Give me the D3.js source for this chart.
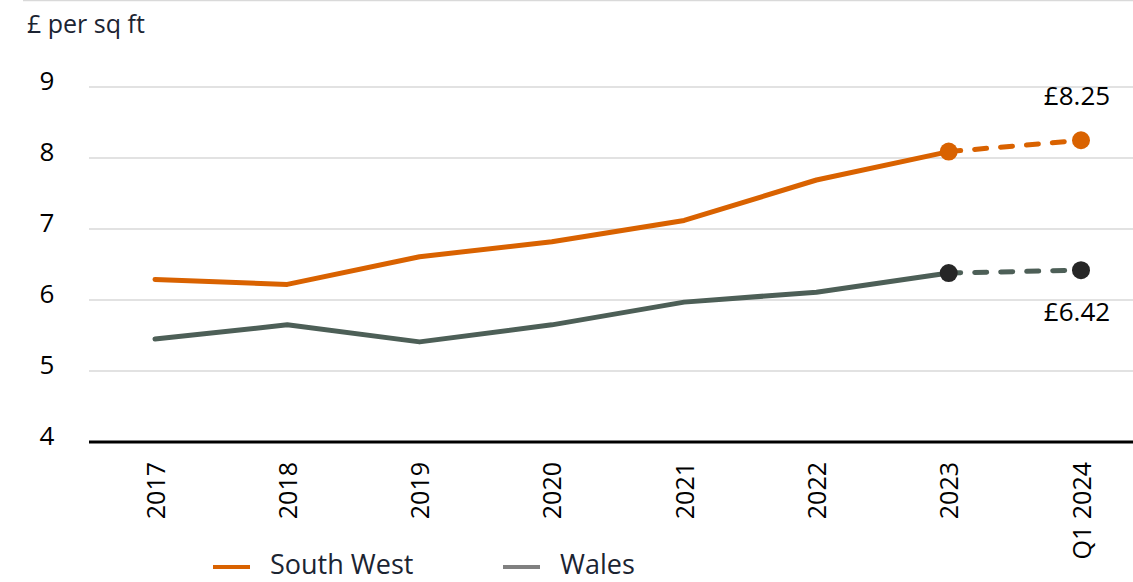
<!DOCTYPE html>
<html>
<head>
<meta charset="utf-8">
<script src="https://cdn.jsdelivr.net/npm/d3@7"></script>
<style>
  html, body { margin: 0; padding: 0; background: #fff; }
  svg { display: block; font-family: "Open Sans", "Noto Sans", sans-serif; }
</style>
</head>
<body>
<svg id="chart" width="1133" height="582"></svg>
<script>
const categories = ["2017", "2018", "2019", "2020", "2021", "2022", "2023", "Q1 2024"];
const southWest = [6.29, 6.22, 6.61, 6.82, 7.12, 7.69, 8.09, 8.25];
const wales = [5.45, 5.65, 5.41, 5.65, 5.97, 6.11, 6.38, 6.42];
const yTicks = [4, 5, 6, 7, 8, 9];
const seriesNames = ["South West", "Wales"];
const endLabels = ["£8.25", "£6.42"];

const W = 1133, H = 582;
const svg = d3.select("#chart");
const x = d3.scalePoint().domain(categories).range([155, 1081]);
const y = d3.scaleLinear().domain([4, 9]).range([442, 87]);
const plotLeft = 89, plotRight = 1133;
const FONT = '"Open Sans", "Noto Sans", sans-serif';

const orange = "#d96200", wGrey = "#4d5f57", dark = "#262626", textDark = "#1b2432";

// top rule
svg.append("line").attr("x1", 23).attr("x2", W).attr("y1", 0.5).attr("y2", 0.5)
  .attr("stroke", "#d9d9d9").attr("stroke-width", 1.5);

// title
svg.append("text").attr("x", 27).attr("y", 33).attr("font-size", 25)
  .attr("fill", textDark).text("£ per sq ft");

// grid + y axis
const yAxis = d3.axisLeft(y).tickValues(yTicks).tickSize(0).tickFormat(d3.format("d"));
const gy = svg.append("g").attr("transform", `translate(${plotLeft},0)`).call(yAxis)
  .attr("font-family", FONT).attr("font-size", 26);
gy.select(".domain").remove();
gy.selectAll("text").attr("x", -42).attr("dy", "0.1em")
  .attr("fill", "#000").attr("text-anchor", "middle");

svg.append("g").selectAll("line").data(yTicks.filter(d => d !== 4)).join("line")
  .attr("x1", plotLeft).attr("x2", plotRight)
  .attr("y1", d => y(d)).attr("y2", d => y(d))
  .attr("stroke", "#d9d9d9").attr("stroke-width", 1.5);

// x axis
const xAxis = d3.axisBottom(x).tickSize(0);
const gx = svg.append("g").attr("transform", `translate(0,${y(4)})`).call(xAxis)
  .attr("font-family", FONT).attr("font-size", 25);
gx.select(".domain").remove();
gx.selectAll("text").attr("fill", "#000")
  .attr("transform", "rotate(-90)").attr("text-anchor", "end")
  .attr("x", -20).attr("y", 0).attr("dy", "0.36em");
svg.append("line").attr("x1", plotLeft).attr("x2", plotRight)
  .attr("y1", y(4)).attr("y2", y(4)).attr("stroke", "#000").attr("stroke-width", 3);

// lines
function drawSeries(vals, color, markerColor) {
  const n = vals.length;
  const solid = vals.map((v, i) => i <= n - 2 ? v : null);
  svg.append("path")
    .attr("d", d3.line().defined(d => d !== null).x((d, i) => x(categories[i])).y(d => y(d))(solid))
    .attr("fill", "none").attr("stroke", color).attr("stroke-width", 5)
    .attr("stroke-linejoin", "round").attr("stroke-linecap", "round");
  const dashed = [[categories[n - 2], vals[n - 2]], [categories[n - 1], vals[n - 1]]];
  svg.append("path")
    .attr("d", d3.line().x(d => x(d[0])).y(d => y(d[1]))(dashed))
    .attr("fill", "none").attr("stroke", color).attr("stroke-width", 5)
    .attr("stroke-dasharray", "12,14").attr("stroke-linecap", "round");
  svg.append("g").selectAll("circle").data(dashed).join("circle")
    .attr("cx", d => x(d[0])).attr("cy", d => y(d[1])).attr("r", 9)
    .attr("fill", markerColor);
}
drawSeries(southWest, orange, orange);
drawSeries(wales, wGrey, dark);

// end labels
const last = categories[categories.length - 1];
svg.append("text").attr("x", x(last) - 4).attr("y", y(southWest[southWest.length - 1]) - 35)
  .attr("text-anchor", "middle").attr("font-size", 26).attr("fill", "#000").text(endLabels[0]);
svg.append("text").attr("x", x(last) - 4).attr("y", y(wales[wales.length - 1]) + 51)
  .attr("text-anchor", "middle").attr("font-size", 26).attr("fill", "#000").text(endLabels[1]);

// legend
const legendColors = [orange, "#808080"];
const legendX = [213, 503];
seriesNames.forEach((name, i) => {
  const g = svg.append("g").attr("transform", `translate(${legendX[i]},567)`);
  g.append("line").attr("x1", 0).attr("x2", 37).attr("y1", 0).attr("y2", 0)
    .attr("stroke", legendColors[i]).attr("stroke-width", 4);
  g.append("text").attr("x", 57).attr("y", 7).attr("font-size", 27)
    .attr("fill", textDark).text(name);
});
</script>
</body>
</html>
